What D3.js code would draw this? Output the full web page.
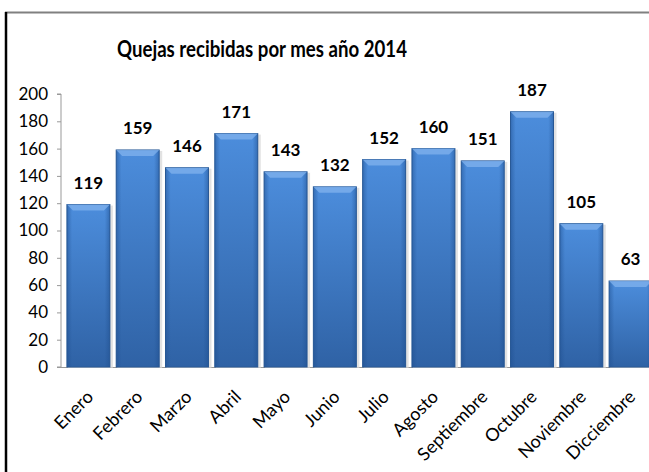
<!DOCTYPE html>
<html>
<head>
<meta charset="utf-8">
<script src="https://cdn.jsdelivr.net/npm/d3@7"></script>
<style>
  body { margin: 0; background: #fff; }
  svg { display: block; }
</style>
</head>
<body>
<div id="wrapper"></div>
<script>
const months = ['Enero', 'Febrero', 'Marzo', 'Abril', 'Mayo', 'Junio', 'Julio', 'Agosto', 'Septiembre', 'Octubre', 'Noviembre', 'Dicciembre']
const quejas = [119, 159, 146, 171, 143, 132, 152, 160, 151, 187, 105, 63]
const yTicks = [0, 20, 40, 60, 80, 100, 120, 140, 160, 180, 200]
const title = 'Quejas recibidas por mes año 2014'

const data = months.map((m, i) => ({ mes: m, valor: quejas[i] }))

const dimensions = {
    width: 649,
    height: 472,
    margin: { top: 94, right: -9, bottom: 105, left: 61 }
}
dimensions.boundedWidth = dimensions.width - dimensions.margin.left - dimensions.margin.right
dimensions.boundedHeight = dimensions.height - dimensions.margin.top - dimensions.margin.bottom

const font = 'Lato, "Open Sans", sans-serif'

const wrapper = d3.select('#wrapper')
    .append('svg')
    .attr('width', dimensions.width)
    .attr('height', dimensions.height)

const defs = wrapper.append('defs')
const grad = defs.append('linearGradient')
    .attr('id', 'barFill')
    .attr('x1', 0).attr('y1', 0).attr('x2', 0).attr('y2', 1)
grad.append('stop').attr('offset', '0%').attr('stop-color', '#4c8ddc')
grad.append('stop').attr('offset', '100%').attr('stop-color', '#2f62a5')

const sideGrad = defs.append('linearGradient')
    .attr('id', 'sideFill')
    .attr('x1', 0).attr('y1', 0).attr('x2', 1).attr('y2', 0)
sideGrad.append('stop').attr('offset', '0%').attr('stop-color', '#1f4f8f').attr('stop-opacity', 0.5)
sideGrad.append('stop').attr('offset', '12%').attr('stop-color', '#1f4f8f').attr('stop-opacity', 0)
sideGrad.append('stop').attr('offset', '88%').attr('stop-color', '#1f4f8f').attr('stop-opacity', 0)
sideGrad.append('stop').attr('offset', '100%').attr('stop-color', '#1f4f8f').attr('stop-opacity', 0.5)

// frame
wrapper.append('line')
    .attr('x1', 5).attr('x2', 649).attr('y1', 12.5).attr('y2', 12.5)
    .attr('stroke', '#808080').attr('stroke-width', 2)
wrapper.append('line')
    .attr('x1', 6).attr('x2', 6).attr('y1', 12).attr('y2', 472)
    .attr('stroke', '#000').attr('stroke-width', 2.5)

wrapper.append('text')
    .text(title)
    .attr('x', 117)
    .attr('y', 57)
    .attr('textLength', 290)
    .attr('lengthAdjust', 'spacingAndGlyphs')
    .style('font-family', font)
    .style('font-weight', 'bold')
    .style('font-size', '23px')
    .attr('fill', '#000')

const bounds = wrapper.append('g')
    .attr('transform', `translate(${dimensions.margin.left}, ${dimensions.margin.top})`)

const scaleX = d3.scaleBand()
    .domain(months)
    .range([0, dimensions.boundedWidth])
    .paddingInner(0.128)
    .paddingOuter(0.12)

const scaleY = d3.scaleLinear()
    .domain([0, 200])
    .range([dimensions.boundedHeight, 0])

// axes
const yAxisGenerator = d3.axisLeft(scaleY).tickValues(yTicks).tickSize(4).tickPadding(9)
const yAxis = bounds.append('g').call(yAxisGenerator)
yAxis.select('.domain').attr('stroke', '#999').attr('d', `M-4,${dimensions.boundedHeight}H0V0H-4`)
yAxis.selectAll('.tick line').attr('stroke', '#999')
yAxis.selectAll('.tick text')
    .style('font-family', font)
    .style('font-size', '17px')
    .attr('fill', '#000')

bounds.append('line')
    .attr('x1', -4).attr('x2', dimensions.boundedWidth)
    .attr('y1', dimensions.boundedHeight + 0.5).attr('y2', dimensions.boundedHeight + 0.5)
    .attr('stroke', '#999')

// bars
const barGroups = bounds.append('g').selectAll('g')
    .data(data)
    .join('g')

barGroups.append('rect')
    .attr('x', d => scaleX(d.mes) + 1)
    .attr('y', d => scaleY(d.valor) + 1)
    .attr('width', scaleX.bandwidth() + 2)
    .attr('height', d => dimensions.boundedHeight - scaleY(d.valor))
    .attr('fill', '#d6d6d6')
    .attr('opacity', 0.7)

barGroups.append('rect')
    .attr('x', d => scaleX(d.mes))
    .attr('y', d => scaleY(d.valor))
    .attr('width', scaleX.bandwidth())
    .attr('height', d => dimensions.boundedHeight - scaleY(d.valor))
    .attr('fill', 'url(#barFill)')
    .attr('stroke', '#2a5a96')
    .attr('stroke-width', 1)

barGroups.append('rect')
    .attr('x', d => scaleX(d.mes))
    .attr('y', d => scaleY(d.valor))
    .attr('width', scaleX.bandwidth())
    .attr('height', d => dimensions.boundedHeight - scaleY(d.valor))
    .attr('fill', 'url(#sideFill)')

// bevel on top
barGroups.append('path')
    .attr('d', d => {
        const x0 = scaleX(d.mes), x1 = x0 + scaleX.bandwidth(), y = scaleY(d.valor)
        return `M${x0},${y}H${x1}L${x1 - 6},${y + 6}H${x0 + 6}Z`
    })
    .attr('fill', '#82b3ee')
    .attr('opacity', 0.75)

barGroups.append('text')
    .text(d => d.valor)
    .attr('x', d => scaleX(d.mes) + scaleX.bandwidth() / 2)
    .attr('y', d => scaleY(d.valor) - 16)
    .attr('text-anchor', 'middle')
    .style('font-family', font)
    .style('font-weight', 'bold')
    .style('font-size', '17px')
    .attr('fill', '#000')

// month labels
bounds.append('g').selectAll('text')
    .data(months)
    .join('text')
    .text(d => d)
    .attr('transform', d => `translate(${scaleX(d) + scaleX.bandwidth() / 2 + 6}, ${dimensions.boundedHeight + 31}) rotate(-45)`)
    .attr('text-anchor', 'end')
    .style('font-family', font)
    .style('font-size', '18px')
    .attr('fill', '#000')
</script>
</body>
</html>
